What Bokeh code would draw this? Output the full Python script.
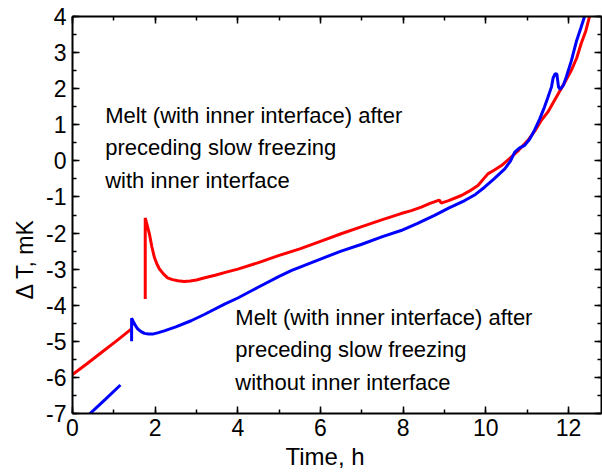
import math
from bokeh.plotting import figure
from bokeh.models import Range1d, LinearAxis, SingleIntervalTicker, Label, PrintfTickFormatter, Title
from bokeh.embed import file_html
from bokeh.resources import INLINE

# ---- data ----
red1_x = [0.0, 0.35, 0.7, 1.05, 1.42]
red1_y = [-5.92, -5.62, -5.31, -5.0, -4.66]

red2_x = [1.76, 1.76, 1.80, 1.86, 1.92, 1.98, 2.04, 2.10, 2.20, 2.30, 2.42, 2.55, 2.70,
          2.85, 3.0, 3.2, 3.45, 3.7, 4.0, 4.5, 5.0, 5.5, 6.0, 6.5, 7.0, 7.5, 7.95, 8.2,
          8.44, 8.65, 8.84, 8.88, 8.92, 9.1, 9.41, 9.6, 9.81, 10.05, 10.2, 10.38, 10.62,
          10.8, 11.02, 11.2, 11.34, 11.5, 11.75, 11.9, 12.07, 12.2, 12.31, 12.42, 12.51]
red2_y = [-3.83, -1.58, -1.75, -2.02, -2.38, -2.67, -2.85, -2.99, -3.13, -3.24, -3.29, -3.32,
          -3.34, -3.33, -3.3, -3.24, -3.17, -3.09, -3.0, -2.82, -2.62, -2.44, -2.23, -2.02,
          -1.82, -1.63, -1.46, -1.38, -1.28, -1.18, -1.10, -1.09, -1.17, -1.1, -0.96, -0.84,
          -0.68, -0.36, -0.26, -0.13, 0.11, 0.3, 0.57, 0.85, 1.12, 1.35, 1.85, 2.15, 2.51,
          2.85, 3.26, 3.6, 4.0]

blue1_x = [0.38, 0.8, 1.16]
blue1_y = [-7.05, -6.6, -6.21]

blue2_x = [1.43, 1.43, 1.47, 1.52, 1.58, 1.66, 1.74, 1.84, 1.94, 2.08, 2.22, 2.5, 2.87, 3.2,
           3.68, 4.0, 4.48, 5.0, 5.29, 6.0, 6.5, 7.0, 7.5, 7.95, 8.35, 8.76, 9.1, 9.49, 9.75,
           9.97, 10.2, 10.46, 10.6, 10.70, 10.82, 10.94, 11.06, 11.18, 11.3, 11.42, 11.5,
           11.59, 11.63, 11.68, 11.72, 11.76, 11.8, 11.88, 11.95, 12.07, 12.19, 12.3, 12.39]
blue2_y = [-5.0, -4.36, -4.45, -4.56, -4.66, -4.73, -4.78, -4.80, -4.80, -4.76, -4.71, -4.6,
           -4.43, -4.25, -3.97, -3.8, -3.51, -3.2, -3.04, -2.72, -2.5, -2.31, -2.1, -1.93,
           -1.73, -1.51, -1.31, -1.10, -0.93, -0.73, -0.5, -0.22, 0.0, 0.24, 0.36, 0.43, 0.6,
           0.85, 1.15, 1.49, 1.75, 2.05, 2.3, 2.42, 2.4, 2.05, 1.98, 2.1, 2.33, 2.77, 3.3,
           3.68, 4.0]

x_range = (0, 12.8)
y_range = (-7, 4)

text1 = ["Melt (with inner interface) after", "preceding slow freezing", "with inner interface"]
text1_x = 0.79
text1_y = [1.26, 0.36, -0.54]
text2 = ["Melt (with inner interface) after", "preceding slow freezing", "without inner interface"]
text2_x = 3.94
text2_y = [-4.35, -5.24, -6.13]

x_title = "Time, h"
y_title = "\u0394 T, mK"

FONT = "Liberation Sans"

p = figure(width=602, height=474, output_backend="svg", toolbar_location=None,
           x_range=Range1d(*x_range), y_range=Range1d(*y_range),
           min_border_left=72, min_border_top=16, min_border_right=1, min_border_bottom=61,
           x_axis_location=None, y_axis_location=None)
p.outline_line_color = None
p.grid.visible = False
p.background_fill_color = "white"
p.border_fill_color = "white"


def style_axis(ax, show_labels):
    ax.axis_line_width = 2
    ax.axis_line_color = "black"
    ax.major_tick_in = 7
    ax.major_tick_out = 0
    ax.minor_tick_in = 4
    ax.minor_tick_out = 0
    ax.major_tick_line_width = 1.5
    ax.minor_tick_line_width = 1.5
    ax.major_tick_line_color = "black"
    ax.minor_tick_line_color = "black"
    ax.formatter = PrintfTickFormatter(format="%d")
    if show_labels:
        ax.major_label_text_font = FONT
        ax.major_label_text_font_size = "23px"
        ax.major_label_text_color = "black"
    else:
        ax.major_label_text_font_size = "1px"
        ax.major_label_text_alpha = 0
        ax.major_label_standoff = 0


xb = LinearAxis(ticker=SingleIntervalTicker(interval=2, num_minor_ticks=2))
style_axis(xb, True)
xb.major_label_standoff = 5
p.add_layout(xb, "below")

xt = LinearAxis(ticker=SingleIntervalTicker(interval=2, num_minor_ticks=2))
style_axis(xt, False)
p.add_layout(xt, "above")

yl = LinearAxis(ticker=SingleIntervalTicker(interval=1, num_minor_ticks=2))
style_axis(yl, True)
yl.major_label_standoff = 6
p.add_layout(yl, "left")

yr = LinearAxis(ticker=SingleIntervalTicker(interval=1, num_minor_ticks=2))
style_axis(yr, False)
p.add_layout(yr, "right")

p.line(red1_x, red1_y, line_color="#ff0000", line_width=3)
p.line(red2_x, red2_y, line_color="#ff0000", line_width=3)
p.line(blue1_x, blue1_y, line_color="#0000ff", line_width=3)
p.line(blue2_x, blue2_y, line_color="#0000ff", line_width=3)

for t, yy in zip(text1, text1_y):
    p.add_layout(Label(x=text1_x, y=yy, text=t, text_font=FONT, text_font_size="22px",
                       text_baseline="alphabetic", text_color="black"))
for t, yy in zip(text2, text2_y):
    p.add_layout(Label(x=text2_x, y=yy, text=t, text_font=FONT, text_font_size="22px",
                       text_baseline="alphabetic", text_color="black"))

# axis titles (as side titles so they are not clipped)
p.add_layout(Title(text=x_title, align="left", offset=213, text_font=FONT,
                   text_font_size="24px", text_font_style="normal", standoff=4,
                   text_color="black"), "below")
p.add_layout(Title(text=y_title, align="left", offset=114, text_font=FONT,
                   text_font_size="23px", text_font_style="normal", standoff=12,
                   text_color="black"), "left")

open("out.html", "w").write(file_html(p, INLINE))
